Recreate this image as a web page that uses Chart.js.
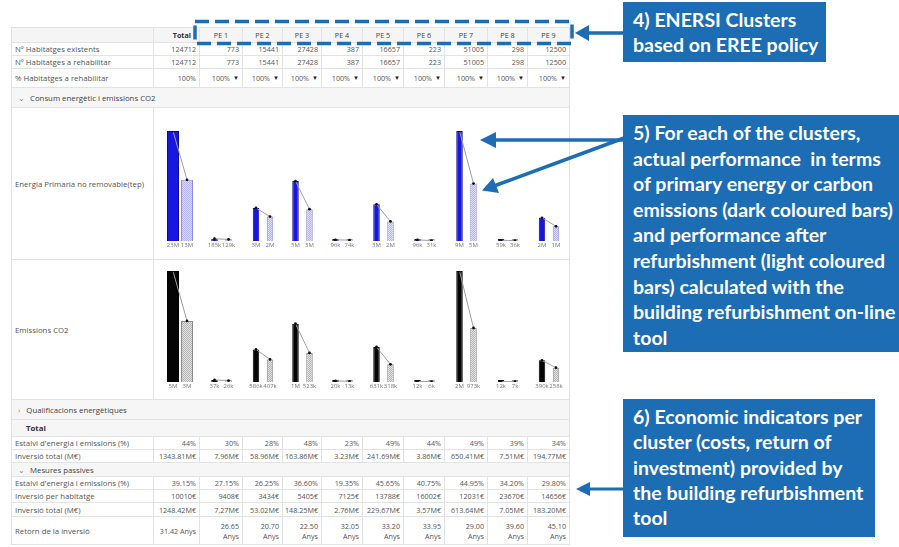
<!DOCTYPE html>
<html>
<head>
<meta charset="utf-8">
<script src="https://cdn.jsdelivr.net/npm/chart.js@4.4.1/dist/chart.umd.min.js"></script>
<style>
  body { margin: 0; background: #fff; }
  #page { position: relative; width: 899px; height: 547px; overflow: hidden; font-family: "Open Sans", sans-serif; }
  .c { position: absolute; box-sizing: border-box; border-right: 1px solid #e3e3e3; border-bottom: 1px solid #e3e3e3;
       display: flex; align-items: center; justify-content: flex-end; padding: 0 3px; font-size: 7.2px; color: #555;
       white-space: nowrap; overflow: hidden; }
  .c.l { justify-content: flex-start; font-size: 7.8px; }
  .c.first { border-left: 1px solid #e3e3e3; }
  .c.top { border-top: 1px solid #e3e3e3; }
  .c.hd { background: #f5f5f5; justify-content: center; color: #444; }
  .c.sec { background: #f6f6f6; justify-content: flex-start; color: #444; font-size: 7.8px; border-left: 1px solid #e3e3e3; }
  .c.two { flex-direction: column; align-items: flex-end; justify-content: center; line-height: 10px; }
  .dd { color: #222; margin-left: 3px; font-size: 6px; }
  canvas { position: absolute; }
  .callout { position: absolute; background: #1c6db4; color: #fff; font-family: Lato, sans-serif; font-weight: bold;
             font-size: 19.5px; box-sizing: border-box; padding-left: 10px; white-space: nowrap; overflow: hidden; }
  svg { position: absolute; left: 0; top: 0; }
</style>
</head>
<body>
<div id="page"></div>
<script>
// clusters and table values
const clusters = ['Total', 'PE 1', 'PE 2', 'PE 3', 'PE 4', 'PE 5', 'PE 6', 'PE 7', 'PE 8', 'PE 9'];
const dwellingsExisting = [124712, 773, 15441, 27428, 387, 16657, 223, 51005, 298, 12500];
const dwellingsToRefurbish = [124712, 773, 15441, 27428, 387, 16657, 223, 51005, 298, 12500];
const shareToRefurbish = ['100%', '100%', '100%', '100%', '100%', '100%', '100%', '100%', '100%', '100%'];

// primary energy (millions of tep): current vs after refurbishment
const energyBefore = [23.0, 0.185, 2.7, 4.9, 0.096, 3.0, 0.096, 9.0, 0.059, 1.9];
const energyAfter = [12.8, 0.129, 2.0, 2.6, 0.074, 1.6, 0.031, 4.7, 0.036, 1.2];
const energyBeforeLabels = ['23M', '185k', '3M', '5M', '96k', '3M', '96k', '9M', '59k', '2M'];
const energyAfterLabels = ['13M', '129k', '2M', '3M', '74k', '2M', '31k', '5M', '36k', '1M'];

// CO2 emissions (millions): current vs after refurbishment
const co2Before = [5.0, 0.037, 0.586, 1.05, 0.020, 0.631, 0.012, 2.0, 0.012, 0.390];
const co2After = [2.75, 0.026, 0.407, 0.523, 0.013, 0.318, 0.006, 0.973, 0.007, 0.258];
const co2BeforeLabels = ['5M', '37k', '586k', '1M', '20k', '631k', '12k', '2M', '12k', '390k'];
const co2AfterLabels = ['3M', '26k', '407k', '523k', '13k', '318k', '6k', '973k', '7k', '258k'];

const savingTotal = ['44%', '30%', '28%', '48%', '23%', '49%', '44%', '49%', '39%', '34%'];
const investTotal = ['1343.81M€', '7.96M€', '58.96M€', '163.86M€', '3.23M€', '241.69M€', '3.86M€', '650.41M€', '7.51M€', '194.77M€'];
const savingPassive = ['39.15%', '27.15%', '26.25%', '36.60%', '19.35%', '45.65%', '40.75%', '44.95%', '34.20%', '29.80%'];
const investPerDwelling = ['10010€', '9408€', '3434€', '5405€', '7125€', '13788€', '16002€', '12031€', '23670€', '14656€'];
const investPassive = ['1248.42M€', '7.27M€', '53.02M€', '148.25M€', '2.76M€', '229.67M€', '3.57M€', '613.64M€', '7.05M€', '183.20M€'];
const paybackYears = ['31.42', '26.65', '20.70', '22.50', '32.05', '33.20', '33.95', '29.00', '39.60', '45.10'];

const page = document.getElementById('page');
const colX = [11, 154, 200, 243, 283, 322, 363, 404, 445, 488, 528, 570];

function cell(x, y, w, h, cls, html) {
    const d = document.createElement('div');
    d.className = 'c ' + (cls || '');
    d.style.cssText = `left:${x}px;top:${y}px;width:${w}px;height:${h}px`;
    if (html != null) d.innerHTML = html;
    page.appendChild(d);
    return d;
}

function valueRow(y, h, label, vals, fmt, extra) {
    cell(colX[0], y, colX[1] - colX[0], h, 'l first ' + (extra || ''), label);
    vals.forEach((v, i) => {
        cell(colX[i + 1], y, colX[i + 2] - colX[i + 1], h, extra || '', fmt ? fmt(v, i) : v);
    });
}

function sectionRow(y, h, text, style) {
    const d = cell(colX[0], y, colX[11] - colX[0], h, 'sec', text);
    if (style) d.style.cssText += ';' + style;
}

// header
cell(colX[0], 27, colX[1] - colX[0], 16, 'first top hd', '');
clusters.forEach((c, i) => {
    const d = cell(colX[i + 1], 27, colX[i + 2] - colX[i + 1], 16, 'top hd', c);
    if (i === 0) { d.style.cssText += ';font-weight:bold;justify-content:flex-end;color:#333;padding-right:8px'; }
});
valueRow(43, 13, 'Nº Habitatges existents', dwellingsExisting);
valueRow(56, 13, 'Nº Habitatges a rehabilitar', dwellingsToRefurbish);
valueRow(69, 19, '% Habitatges a rehabilitar', shareToRefurbish,
    (v, i) => i === 0 ? v : v + '<span class="dd">▼</span>');
sectionRow(88, 20, '<span style="margin:0 5px 0 3px;color:#888">⌄</span>Consum energètic i emissions CO2');

// chart rows
cell(colX[0], 108, colX[1] - colX[0], 152, 'l first', 'Energia Primaria no removable(tep)');
cell(colX[1], 108, colX[11] - colX[1], 152, '', '');
cell(colX[0], 260, colX[1] - colX[0], 140, 'l first', 'Emissions CO2');
cell(colX[1], 260, colX[11] - colX[1], 140, '', '');

sectionRow(400, 20, '<span style="margin:0 6px 0 3px;color:#888">›</span>Qualificacions energètiques');
sectionRow(420, 17, 'Total', 'font-weight:bold;padding-left:14px;color:#333');
valueRow(437, 13, "Estalvi d'energia i emissions (%)", savingTotal);
valueRow(450, 13, 'Inversió total (M€)', investTotal);
sectionRow(463, 14, '<span style="margin:0 5px 0 3px;color:#888">⌄</span>Mesures passives');
valueRow(477, 13, "Estalvi d'energia i emissions (%)", savingPassive);
valueRow(490, 13, 'Inversió per habitatge', investPerDwelling);
valueRow(503, 14, 'Inversió total (M€)', investPassive);
cell(colX[0], 517, colX[1] - colX[0], 28, 'l first', 'Retorn de la inversió');
paybackYears.forEach((v, i) => {
    const w = colX[i + 2] - colX[i + 1];
    if (i === 0) cell(colX[1], 517, w, 28, '', v + ' Anys');
    else cell(colX[i + 1], 517, w, 28, 'two', `<span>${v}</span><span>Anys</span>`);
});

// dotted fill for the "after refurbishment" bars
function dotPattern(base, dot) {
    const p = document.createElement('canvas');
    p.width = 2; p.height = 2;
    const g = p.getContext('2d');
    g.fillStyle = base; g.fillRect(0, 0, 2, 2);
    g.fillStyle = dot; g.fillRect(0, 0, 1, 1); g.fillRect(1, 1, 1, 1);
    return g.createPattern(p, 'repeat');
}

const energyStyle = { dark: '#1717e0', darkBorder: '#0a0a8c', light: dotPattern('#dcdcfb', '#b4b4f0'), lightBorder: '#8c8ce0' };
const co2Style = { dark: '#050505', darkBorder: '#000', light: dotPattern('#e2e2e2', '#b4b4b4'), lightBorder: '#8a8a8a' };

function miniChart(col, rowTop, rowH, barTop, barBottom, before, after, lblB, lblA, max, st) {
    const x = colX[col + 1], w = colX[col + 2] - colX[col + 1];
    const cv = document.createElement('canvas');
    cv.width = w; cv.height = rowH - 1;
    cv.style.left = x + 'px'; cv.style.top = rowTop + 'px';
    page.appendChild(cv);
    // the pair center sits a little right of the Total cell middle
    const center = col === 0 ? 26 : w / 2;
    const barW = col === 0 ? 12 : 6.5;
    new Chart(cv, {
        type: 'bar',
        data: {
            labels: [lblB, lblA],
            datasets: [
                {
                    type: 'line', data: [before, after], borderColor: '#a0a0a0', borderWidth: 1,
                    pointRadius: 1.4, pointBackgroundColor: '#111', pointBorderWidth: 0, order: 0
                },
                {
                    type: 'bar', data: [before, after],
                    backgroundColor: [st.dark, st.light], borderColor: [st.darkBorder, st.lightBorder],
                    borderWidth: 1, barPercentage: barW / 14, categoryPercentage: 1, minBarLength: 2, order: 1
                }
            ]
        },
        options: {
            responsive: false, animation: false, events: [],
            layout: { padding: { left: center - 14, right: w - center - 14, top: barTop - rowTop, bottom: (rowH - 1) - (barBottom - rowTop) - 7.2 } },
            plugins: { legend: { display: false }, tooltip: { enabled: false } },
            scales: {
                x: {
                    offset: true, grid: { display: false, drawTicks: false }, border: { display: false },
                    ticks: { padding: 1, autoSkip: false, maxRotation: 0, color: '#777', font: { family: 'Open Sans', size: 6, lineHeight: 1.2 } }
                },
                y: { display: false, min: 0, max: max }
            }
        }
    });
}

const energyMaxPE = Math.max(...energyBefore.slice(1));
const co2MaxPE = Math.max(...co2Before.slice(1));
clusters.forEach((c, i) => {
    miniChart(i, 108, 152, 131, 243, energyBefore[i], energyAfter[i], energyBeforeLabels[i], energyAfterLabels[i],
        i === 0 ? energyBefore[0] : energyMaxPE, energyStyle);
    miniChart(i, 260, 140, 271, 384, co2Before[i], co2After[i], co2BeforeLabels[i], co2AfterLabels[i],
        i === 0 ? co2Before[0] : co2MaxPE, co2Style);
});

// callout boxes
function callout(x, y, w, h, lines, lineH, padTop) {
    const d = document.createElement('div');
    d.className = 'callout';
    d.style.cssText = `left:${x}px;top:${y}px;width:${w}px;height:${h}px;line-height:${lineH}px;padding-top:${padTop}px`;
    d.innerHTML = lines.join('<br>');
    page.appendChild(d);
}
callout(623, 2, 203, 60, ['4) ENERSI Clusters', 'based on EREE policy'], 25, 5);
callout(623, 115, 290, 237, ['5) For each of the clusters,', 'actual performance&nbsp; in terms', 'of primary energy or carbon',
    'emissions (dark coloured bars)', 'and performance after', 'refurbishment (light coloured', 'bars) calculated with the',
    'building refurbishment on-line', 'tool'], 25.6, 5);
callout(623, 399, 252, 138, ['6) Economic indicators per', 'cluster (costs, return of', 'investment) provided by',
    'the building refurbishment', 'tool'], 25.25, 5);

// dashed frame and arrows
const blue = '#1c6db4';
page.insertAdjacentHTML('beforeend', `
<svg width="899" height="547">
  <rect x="195" y="21.5" width="377" height="22" fill="none" stroke="${blue}" stroke-width="3.5" stroke-dasharray="14 6"/>
  <line x1="624" y1="33" x2="586" y2="33" stroke="${blue}" stroke-width="3.5"/>
  <polygon points="575,33 589,25 589,41" fill="${blue}"/>
  <line x1="624" y1="140" x2="493" y2="140" stroke="${blue}" stroke-width="3.5"/>
  <polygon points="480,140 496,132 496,148" fill="${blue}"/>
  <line x1="624" y1="138" x2="494" y2="186" stroke="${blue}" stroke-width="3.5"/>
  <polygon points="482,190.5 493,178 499,193" fill="${blue}"/>
  <line x1="624" y1="489" x2="588" y2="489" stroke="${blue}" stroke-width="3"/>
  <polygon points="576,489 590,482 590,496" fill="${blue}"/>
</svg>`);
</script>
</body>
</html>
